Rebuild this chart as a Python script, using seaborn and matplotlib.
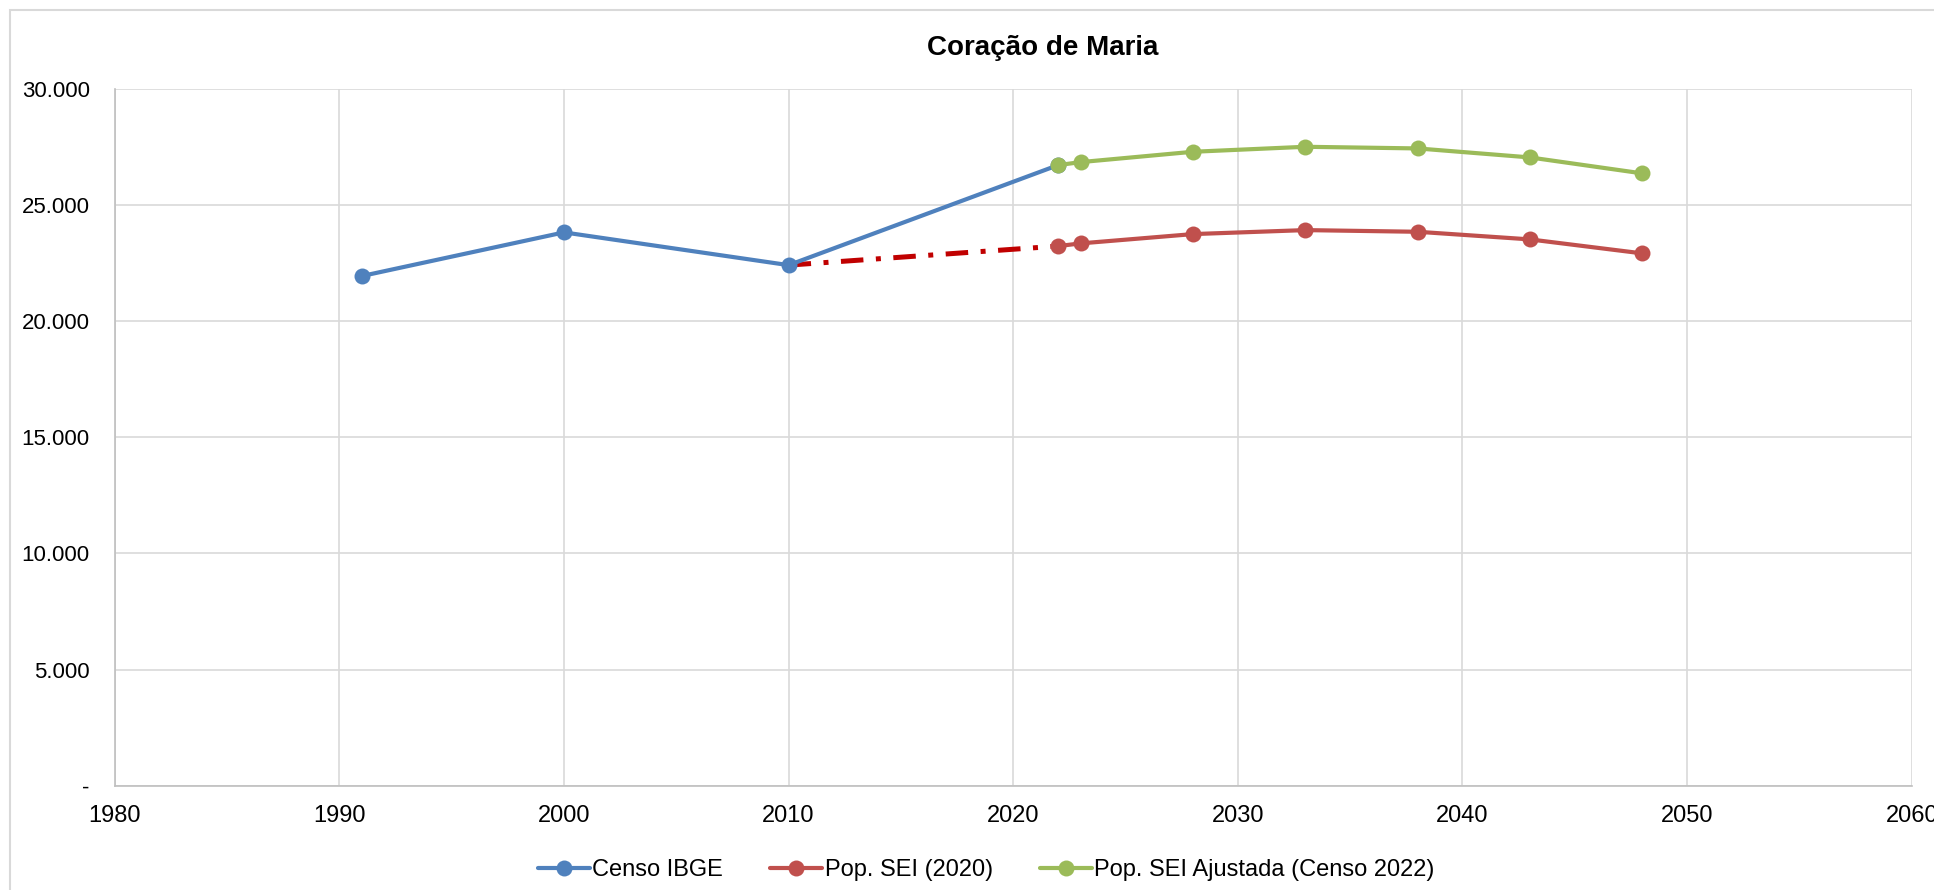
import numpy as np
import pandas as pd
import matplotlib
matplotlib.use("Agg")
import matplotlib.pyplot as plt
import seaborn as sns
from matplotlib.ticker import FuncFormatter
from matplotlib.patches import Rectangle

# dados
anos_censo = [1991, 2000, 2010, 2022]
pop_censo = [21940, 23820, 22410, 26716]

anos_proj = [2022, 2023, 2028, 2033, 2038, 2043, 2048]
pop_sei = [23230, 23346, 23746, 23918, 23846, 23518, 22916]
pop_sei_ajust = [26716, 26845, 27290, 27505, 27434, 27047, 26360]

# ligacao tracejada 2010 -> 2022
anos_lig = [2010, 2022]
pop_lig = [22410, 23230]

sns.set_style("white")
narrow = ['Liberation Sans Narrow', 'Liberation Sans', 'DejaVu Sans']
plt.rcParams['font.family'] = ['Liberation Sans', 'DejaVu Sans']
plt.rcParams['text.color'] = 'black'
plt.rcParams['xtick.color'] = 'black'
plt.rcParams['ytick.color'] = 'black'

fig = plt.figure(figsize=(19.34, 8.9), dpi=100)
ax = fig.add_axes([0.0593, 0.1172, 0.9292, 0.783])

df_censo = pd.DataFrame({'ano': anos_censo, 'pop': pop_censo})
df_sei = pd.DataFrame({'ano': anos_proj, 'pop': pop_sei})
df_aj = pd.DataFrame({'ano': anos_proj, 'pop': pop_sei_ajust})
df_lig = pd.DataFrame({'ano': anos_lig, 'pop': pop_lig})

sns.lineplot(data=df_lig, x='ano', y='pop', ax=ax, color='#C00000', lw=3.6,
             linestyle=(0, (4.5, 2.5, 1, 2.5)), zorder=3)
sns.lineplot(data=df_censo, x='ano', y='pop', ax=ax, color='#4F81BD', lw=3,
             marker='o', markersize=11.5, markeredgewidth=0, label='Censo IBGE', zorder=4)
sns.lineplot(data=df_sei, x='ano', y='pop', ax=ax, color='#C0504D', lw=3,
             marker='o', markersize=11.5, markeredgewidth=0, label='Pop. SEI (2020)', zorder=4)
sns.lineplot(data=df_aj, x='ano', y='pop', ax=ax, color='#9BBB59', lw=3,
             marker='o', markersize=11.5, markeredgewidth=0,
             label='Pop. SEI Ajustada (Censo 2022)', zorder=5)

ax.set_xlim(1980, 2060)
ax.set_ylim(0, 30000)
ax.set_xticks(np.arange(1980, 2061, 10))
ax.set_yticks(np.arange(0, 30001, 5000))
ax.yaxis.set_major_formatter(FuncFormatter(
    lambda v, p: '-' if v == 0 else f'{int(v):,}'.replace(',', '.')))
ax.grid(True, color='#D9D9D9', lw=1.2)
ax.set_axisbelow(True)
ax.tick_params(axis='x', length=0, pad=14)
ax.tick_params(axis='y', length=0, pad=18)
for lab in ax.get_yticklabels():
    lab.set_fontsize(16)
for lab in ax.get_xticklabels():
    lab.set_fontsize(17)
    lab.set_family(narrow)
ax.set_xlabel('')
ax.set_ylabel('')
for s in ['top', 'right']:
    ax.spines[s].set_visible(False)
for s in ['left', 'bottom']:
    ax.spines[s].set_color('#BFBFBF')
    ax.spines[s].set_linewidth(1.2)

fig.text(0.539, 0.946, 'Coração de Maria', ha='center', va='center',
         fontsize=20, fontweight='bold', family=narrow)

leg = ax.legend(loc='upper center', bbox_to_anchor=(0.485, -0.075), ncol=3,
                frameon=False, prop={'family': narrow, 'size': 17},
                handlelength=2.2, handletextpad=0.1, columnspacing=2.0)

fig.patches.append(Rectangle((0.005, -0.01), 1.0, 0.999, transform=fig.transFigure,
                             fill=False, edgecolor='#D9D9D9', lw=1.5))

fig.savefig('out.png', dpi=100)
